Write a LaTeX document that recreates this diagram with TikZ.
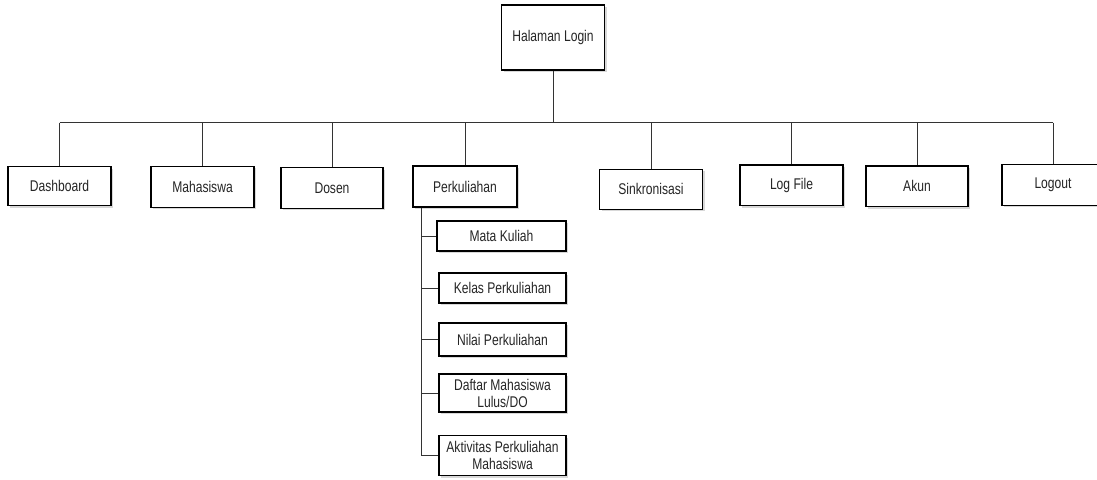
\documentclass[tikz,border=0pt]{standalone}
\usepackage{fontspec}
\setmainfont[FakeStretch=0.78]{Liberation Sans}
\usetikzlibrary{shadows}
\begin{document}
\begin{tikzpicture}[x=1pt,y=-1pt,
  box/.style={draw=black,line width=1.1pt,fill=white,align=center,inner sep=1pt,
    font=\fontsize{15.5}{17}\selectfont,text=black!85,
    drop shadow={shadow xshift=2pt,shadow yshift=-2pt,fill=black!25,opacity=0.6}},
  link/.style={draw=black!80,line width=1pt}]
\useasboundingbox[fill=white] (0,0) rectangle (1097,479);
\node[box,minimum width=103pt,minimum height=65pt] (login) at (553,37.5) {Halaman Login};
\node[box,minimum width=103pt,minimum height=39pt] (dash) at (59.5,186.2) {Dashboard};
\node[box,minimum width=103pt,minimum height=41pt] (maha) at (202.5,186.8) {Mahasiswa};
\node[box,minimum width=102pt,minimum height=40.6pt] (dosen) at (332,188) {Dosen};
\node[box,minimum width=104pt,minimum height=41pt] (perk) at (465,186.5) {Perkuliahan};
\node[box,minimum width=103pt,minimum height=40pt] (sink) at (651,189.2) {Sinkronisasi};
\node[box,minimum width=103pt,minimum height=40.7pt] (logf) at (791.5,185.3) {Log File};
\node[box,minimum width=102pt,minimum height=40.7pt] (akun) at (917,186.3) {Akun};
\node[box,minimum width=102pt,minimum height=41pt] (logout) at (1053,184.8) {Logout};
\node[box,minimum width=129pt,minimum height=30pt] (mk) at (501.5,236) {Mata Kuliah};
\node[box,minimum width=127pt,minimum height=30pt] (kp) at (502.5,288) {Kelas Perkuliahan};
\node[box,minimum width=127pt,minimum height=33pt] (np) at (502.5,339.5) {Nilai Perkuliahan};
\node[box,minimum width=127pt,minimum height=38pt] (dm) at (502.5,393) {Daftar Mahasiswa\\Lulus/DO};
\node[box,minimum width=127pt,minimum height=40pt] (ap) at (502.5,455.5) {Aktivitas Perkuliahan\\Mahasiswa};
\coordinate (bus) at (553,122.7);
\coordinate (tr) at (421,0);
\draw[link] (login.south) -- (login.south |- bus);
\draw[link] (bus -| dash.north) -- (bus -| logout.north);
\foreach \n in {dash,maha,dosen,perk,sink,logf,akun,logout}
  \draw[link] (bus -| \n.north) -- (\n.north);
\draw[link] (tr |- perk.south) -- (tr |- ap.west);
\foreach \n in {mk,kp,np,dm,ap}
  \draw[link] (tr |- \n.west) -- (\n.west);
\end{tikzpicture}
\end{document}
